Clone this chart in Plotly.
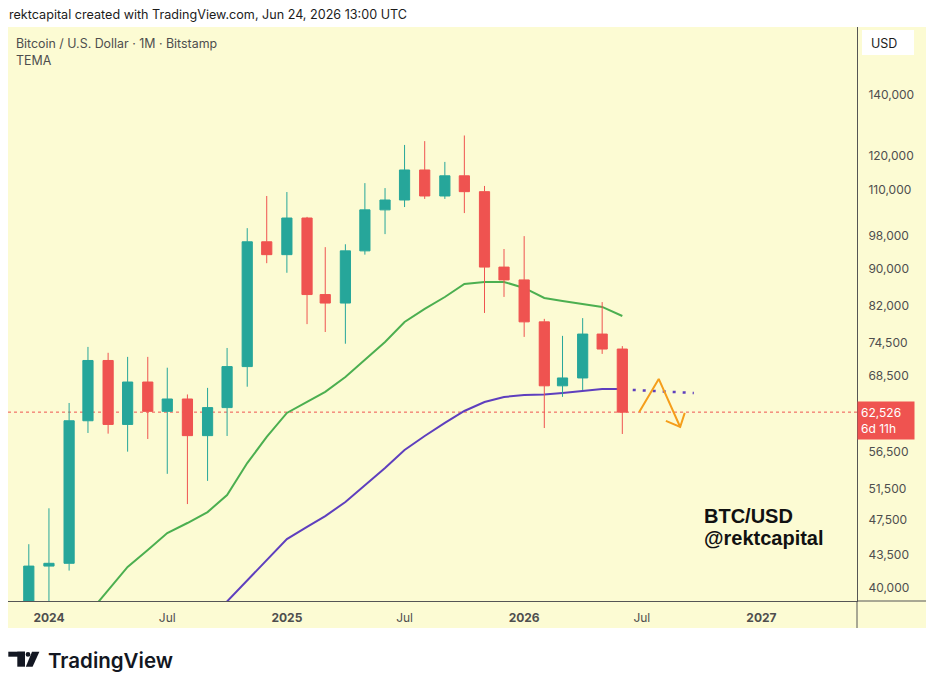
import numpy as np
import plotly.graph_objects as go

# ----------------------------
# Monthly candles BTC/USD (Bitstamp)
# ----------------------------

months = [
    "2023-12-01",
    "2024-01-01", "2024-02-01", "2024-03-01", "2024-04-01", "2024-05-01", "2024-06-01",
    "2024-07-01", "2024-08-01", "2024-09-01", "2024-10-01", "2024-11-01", "2024-12-01",
    "2025-01-01", "2025-02-01", "2025-03-01", "2025-04-01", "2025-05-01", "2025-06-01",
    "2025-07-01", "2025-08-01", "2025-09-01", "2025-10-01", "2025-11-01", "2025-12-01",
    "2026-01-01", "2026-02-01", "2026-03-01", "2026-04-01", "2026-05-01", "2026-06-01",
]

opens = [
    37720,
    42280, 42580, 61170, 71300, 60600, 67500,
    62650, 64650, 58900, 63250, 70200, 96400,
    93300, 102400, 84300, 82500, 94200, 104550,
    107200, 115700, 108300, 114000, 109500, 90400,
    87500, 78650, 66850, 68200, 76250, 73400,
]
highs = [
    44700,
    48970, 64000, 73800, 72700, 71950, 71950,
    70000, 65400, 66500, 73600, 99800, 108300,
    109400, 102700, 95100, 95800, 111900, 110500,
    123300, 124500, 118100, 126300, 111100, 94650,
    97800, 79250, 75900, 79400, 82700, 73950,
]
lows = [
    37600,
    38500, 41800, 59300, 59200, 56550, 58400,
    53450, 49500, 52500, 58850, 66700, 91300,
    89100, 78200, 76650, 74400, 93300, 98300,
    105300, 107500, 107500, 103700, 80450, 83800,
    75700, 60050, 65000, 66150, 72500, 59150,
]
closes = [
    42280,
    42580, 61170, 71300, 60600, 67500, 62650,
    64650, 58900, 63250, 70200, 96400, 93300,
    102400, 84300, 82500, 94200, 104550, 107200,
    115700, 108300, 114000, 109500, 90400, 87500,
    78650, 66850, 68200, 76250, 73400, 62526,
]

# TEMA lines (fast = green, slow = purple)
tema_fast = [
    None,
    None, None, 37400, 39790, 42190, 44050,
    45990, 47170, 48500, 50650, 54940, 58700,
    62400, 64160, 65830, 68370, 71390, 74740,
    78630, 81280, 83780, 86600, 87040, 87040,
    85730, 83570, 82940, 82300, 81690, 79830,
]
tema_slow = [
    None,
    None, None, None, None, None, None,
    None, None, 36700, 38650, 40850, 42990,
    45290, 46700, 48010, 49760, 51950, 54250,
    56800, 58850, 60830, 62710, 64160, 64980,
    65310, 65400, 65640, 65970, 66310, 66310,
]

# projection drawings
proj_x = ["2026-06-17", "2026-09-19"]
proj_y = [66150, 65640]
arrow_x = ["2026-06-27", "2026-07-27", "2026-08-29"]
arrow_y = [62560, 68030, 60210]
head_x = ["2026-08-07", "2026-08-29", "2026-09-05"]
head_y = [61140, 60210, 62400]

last_price = 62526

# axis ticks
price_ticks = [40000, 43500, 47500, 51500, 56500, 68500, 74500,
               82000, 90000, 98000, 110000, 120000, 140000]
date_ticks = ["2024-01-01", "2024-07-01", "2025-01-01", "2025-07-01",
              "2026-01-01", "2026-07-01", "2027-01-01"]
date_labels = ["<b>2024</b>", "Jul", "<b>2025</b>", "Jul",
               "<b>2026</b>", "Jul", "<b>2027</b>"]

GREEN = "#26a69a"
RED = "#ef5350"
BG = "#fcfbd3"
TEXT = "#4e4e4e"

# ----------------------------
# helpers: page pixel -> paper
# (the page body adds an 8px offset, plot area spans x 8..857, y 27..601)
# ----------------------------

def px(x):
    return (x - 8) / 849


def py(y):
    return (601 - y) / 574


x_range = ["2023-10-30", "2027-05-28"]
y_range = [np.log10(38690), np.log10(166400)]

fig = go.Figure()

fig.add_trace(go.Scatter(x=months, y=tema_fast, mode="lines",
                         line=dict(color="#4caf50", width=2), hoverinfo="skip"))
fig.add_trace(go.Scatter(x=months, y=tema_slow, mode="lines",
                         line=dict(color="#5e3fbe", width=2), hoverinfo="skip"))
fig.add_trace(go.Scatter(x=proj_x, y=proj_y, mode="lines",
                         line=dict(color="#5e3fbe", width=2.5, dash="3px,7px"), hoverinfo="skip"))
fig.add_trace(go.Scatter(x=arrow_x, y=arrow_y, mode="lines",
                         line=dict(color="#f59e1b", width=2), hoverinfo="skip"))
fig.add_trace(go.Scatter(x=head_x, y=head_y, mode="lines",
                         line=dict(color="#f59e1b", width=2), hoverinfo="skip"))

# candles on an overlay so they sit above the lines
fig.add_trace(go.Candlestick(
    x=months, open=opens, high=highs, low=lows, close=closes,
    increasing=dict(line=dict(color=GREEN, width=1), fillcolor=GREEN),
    decreasing=dict(line=dict(color=RED, width=1), fillcolor=RED),
    whiskerwidth=0,
    xaxis="x2", yaxis="y2",
))

shapes = [
    # yellow chart panel
    dict(type="rect", xref="paper", yref="paper", x0=px(7), x1=px(930), y0=py(628), y1=py(27),
         fillcolor=BG, line=dict(width=0), layer="below"),
    # axis line extensions
    dict(type="line", xref="paper", yref="paper", x0=px(857), x1=px(930), y0=py(601), y1=py(601),
         line=dict(color="#555", width=1)),
    dict(type="line", xref="paper", yref="paper", x0=px(857), x1=px(857), y0=py(601), y1=py(628),
         line=dict(color="#555", width=1)),
    # USD box
    dict(type="rect", xref="paper", yref="paper", x0=px(862), x1=px(914), y0=py(55), y1=py(30),
         fillcolor="white", line=dict(width=0)),
    # last price dotted line
    dict(type="line", xref="paper", yref="y", x0=0, x1=1, y0=last_price, y1=last_price,
         line=dict(color=RED, width=1, dash="dot"), layer="below"),
    # TradingView logo
    dict(type="rect", xref="paper", yref="paper", x0=px(8.3), x1=px(25), y0=py(656.7), y1=py(651.7),
         fillcolor="#131722", line=dict(width=0)),
    dict(type="rect", xref="paper", yref="paper", x0=px(17.3), x1=px(25), y0=py(666.7), y1=py(651.7),
         fillcolor="#131722", line=dict(width=0)),
    dict(type="circle", xref="paper", yref="paper", x0=px(25.6), x1=px(30.4), y0=py(656.8), y1=py(652),
         fillcolor="#131722", line=dict(width=0)),
    dict(type="path", xref="paper", yref="paper",
         path=f"M {px(32)},{py(651.7)} L {px(39.4)},{py(651.7)} L {px(32.6)},{py(666.7)} "
              f"L {px(25.8)},{py(666.7)} Z",
         fillcolor="#131722", line=dict(width=0)),
]

annotations = [
    dict(text="rektcapital created with TradingView.com, Jun 24, 2026 13:00 UTC",
         xref="paper", yref="paper", x=px(7), y=py(15), xanchor="left", yanchor="middle",
         showarrow=False, font=dict(size=12.6, color="#1c1c1c")),
    dict(text="Bitcoin / U.S. Dollar · 1M · Bitstamp",
         xref="paper", yref="paper", x=px(14), y=py(43), xanchor="left", yanchor="middle",
         showarrow=False, font=dict(size=12.4, color=TEXT)),
    dict(text="TEMA",
         xref="paper", yref="paper", x=px(14), y=py(61), xanchor="left", yanchor="middle",
         showarrow=False, font=dict(size=12.4, color=TEXT)),
    dict(text="USD",
         xref="paper", yref="paper", x=px(869), y=py(43), xanchor="left", yanchor="middle",
         showarrow=False, font=dict(size=12.5, color="#1c1c1c")),
    dict(text=f"{last_price:,}<br>6d 11h",
         xref="paper", yref="y", x=1, y=np.log10(last_price), xanchor="left", yanchor="middle",
         yshift=-8, align="left", width=50, borderpad=3, bgcolor=RED,
         showarrow=False, font=dict(size=12, color="white")),
    dict(text="<b>BTC/USD</b>",
         xref="paper", yref="paper", x=px(702), y=py(516), xanchor="left", yanchor="middle",
         showarrow=False, font=dict(size=20, color="#111", family="Liberation Sans")),
    dict(text="<b>@rektcapital</b>",
         xref="paper", yref="paper", x=px(702), y=py(538), xanchor="left", yanchor="middle",
         showarrow=False, font=dict(size=20, color="#111", family="Liberation Sans")),
    dict(text="TradingView",
         xref="paper", yref="paper", x=px(46), y=py(660), xanchor="left", yanchor="middle",
         showarrow=False, font=dict(size=20.5, color="#131722", family="Inter", weight=600)),
]

fig.update_layout(
    width=934, height=683,
    margin=dict(l=0, r=85, t=19, b=90),
    paper_bgcolor="white", plot_bgcolor=BG,
    font=dict(family="Inter, Roboto, sans-serif", color=TEXT),
    showlegend=False,
    boxgap=0.2,
    shapes=shapes,
    annotations=annotations,
    xaxis=dict(type="date", range=x_range, tickmode="array", tickvals=date_ticks,
               ticktext=date_labels, showgrid=False, zeroline=False, showline=True,
               linecolor="#555", linewidth=1, ticks="", ticklabelstandoff=6,
               tickfont=dict(size=12, color=TEXT), rangeslider=dict(visible=False)),
    yaxis=dict(type="log", range=y_range, side="right", tickmode="array",
               tickvals=price_ticks, ticktext=[f"{v:,}" for v in price_ticks],
               showgrid=False, zeroline=False, showline=True, linecolor="#555",
               linewidth=1, ticks="", ticklabelstandoff=8, tickfont=dict(size=12, color=TEXT)),
    xaxis2=dict(type="date", range=x_range, overlaying="x", anchor="y2", visible=False,
                rangeslider=dict(visible=False)),
    yaxis2=dict(type="log", range=y_range, overlaying="y", anchor="x2", side="right",
                visible=False),
)

fig.write_html("out.html", config={"displayModeBar": False})
